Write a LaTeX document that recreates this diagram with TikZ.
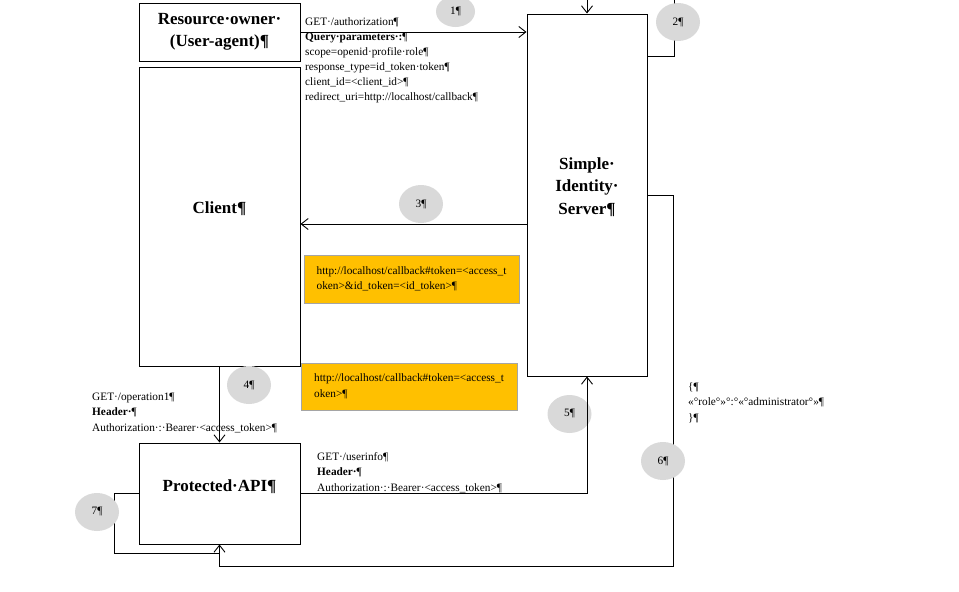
\documentclass[tikz,border=0pt]{standalone}
\usepackage{fontspec}
\setmainfont{Liberation Serif}
\usepackage{xcolor}
\usepackage{tikz}
\usetikzlibrary{shapes.geometric, arrows.meta, positioning, calc}

\definecolor{tokengold}{HTML}{FFC000}
\definecolor{tokenedge}{HTML}{A5A5A5}
\newcommand{\lblfont}{\fontsize{11.3}{15.5}\selectfont}
\newcommand{\boxfont}{\bfseries\fontsize{17}{22.5}\selectfont}

\begin{document}
\begin{tikzpicture}[
    x=1pt, y=-1pt,
    >={Straight Barb[length=7pt,width=11pt]},
    block/.style={draw, line width=1pt, inner sep=0pt},
    title/.style={font=\boxfont, align=center, inner sep=0pt},
    token/.style={draw=tokenedge, fill=tokengold, font=\lblfont, align=left},
    badge/.style={ellipse, fill=gray!30, minimum width=44pt, minimum height=38pt, inner sep=0pt, font=\lblfont},
    note/.style={font=\lblfont, align=left, inner sep=0pt, anchor=base west},
    flow/.style={line width=0.9pt}
]
\useasboundingbox (0,0) rectangle (959,592);

% Boxes
\node[block, title, minimum width=161pt, minimum height=58pt] (owner) at (219.5,32) {Resource·owner·\\(User-agent)¶};
\node[block, minimum width=161pt, minimum height=299pt,
    label={[title, name=clienttext, yshift=8pt]center:Client¶}] (client) at (219.5,216.5) {};
\node[block, minimum width=120pt, minimum height=362pt,
    label={[title, name=servertext, yshift=8pt]center:Simple·\\Identity·\\Server¶}] (server) at (587,195) {};
\node[block, minimum width=161pt, minimum height=101pt,
    label={[title, name=apitext, yshift=7pt]center:Protected·API¶}] (api) at (219.5,493.5) {};

% Tokens
\node[token, minimum width=215pt, minimum height=48pt] (tokboth) at (411.5,279)
    {http://localhost/callback\#token=<access\_t\\oken>\&id\_token=<id\_token>¶};
\node[token, minimum width=216pt, minimum height=47pt] (tokaccess) at (409,386.5)
    {http://localhost/callback\#token=<access\_t\\oken>¶};

% Connectors
\coordinate (loop2) at (674,-10);
\coordinate (back6) at (673,566);
\coordinate (back7) at (114,553);
\draw[flow, ->] (owner.east) -- (owner.east -| server.west);
\draw[flow, ->] ($(server.north east)+(0,43)$) -| (loop2) -| (server.north);
\draw[flow, ->] ($(server.west)+(0,29)$) coordinate (ret3) -- (ret3 -| client.east);
\draw[flow, ->] (client.south) -- (api.north);
\draw[flow, ->] (server.east) -| (back6) -| (api.south);
\draw[flow] (api.west) -| (back7) -- (back7 -| api.south);

% Steps
\node[badge, minimum width=39pt, minimum height=31pt] (step1) at (455.5,11.5) {1¶};
\node[badge] (step2) at (678,22) {2¶};
\node[badge] (step3) at (421,204) {3¶};
\node[badge] (step4) at (249,385) {4¶};
\node[badge] (step5) at (569.5,414) {5¶};
\node[badge] (step6) at (663,461) {6¶};
\node[badge] (step7) at (97,512) {7¶};

\draw[flow, ->] (api.east) -| (server.south);

% Annotations (anchored on the baseline of the last line)
\node[note, font=\fontsize{11.3}{15}\selectfont] (authreq) at (305,100) {GET·/authorization¶\\\textbf{Query·parameters·:}¶\\scope=openid·profile·role¶\\response\_type=id\_token·token¶\\client\_id=<client\_id>¶\\redirect\_uri=http://localhost/callback¶};
\node[note] (opreq) at (92,431) {GET·/operation1¶\\\textbf{Header·}¶\\Authorization·:·Bearer·<access\_token>¶};
\node[note] (inforeq) at (317,491) {GET·/userinfo¶\\\textbf{Header·}¶\\Authorization·:·Bearer·<access\_token>¶};
\node[note] (claims) at (688,421) {\{¶\\«°role°»°:°«°administrator°»¶\\\}¶};

\end{tikzpicture}
\end{document}
